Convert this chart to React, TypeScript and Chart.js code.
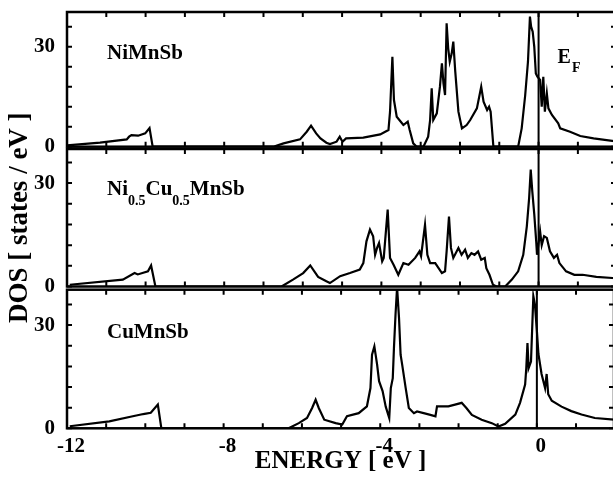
import React, { useEffect, useRef } from 'react';
import { Chart, registerables } from 'chart.js';

Chart.register(...registerables);

// ---------- axis ticks / labels ----------
const xTickValues = [-12, -11, -10, -9, -8, -7, -6, -5, -4, -3, -2, -1, 0, 1];
const xLabelValues = [-12, -8, -4, 0];
const yTickValues = [0, 6, 12, 18, 24, 30, 36];
const yLabelValues = [0, 30];
const fermiEnergy = 0;

// ---------- NiMnSb ----------
const niEnergy = [-12.0, -11.16, -10.48, -10.42, -10.36, -10.19, -10.01, -9.9, -9.82, -6.75, -6.49, -6.07, -5.9, -5.79, -5.66, -5.55, -5.4, -5.31, -5.14, -5.06, -4.99, -4.9, -4.46, -4.03, -3.82, -3.78, -3.72, -3.68, -3.61, -3.44, -3.33, -3.28, -3.19, -3.1, -2.93, -2.81, -2.76, -2.72, -2.68, -2.59, -2.51, -2.46, -2.42, -2.38, -2.34, -2.3, -2.26, -2.21, -2.17, -2.12, -2.04, -1.95, -1.83, -1.74, -1.57, -1.46, -1.4, -1.31, -1.26, -1.22, -1.15, -0.52, -0.43, -0.34, -0.27, -0.22, -0.19, -0.15, -0.11, -0.07, -0.03, 0.04, 0.08, 0.12, 0.16, 0.21, 0.25, 0.34, 0.5, 0.55, 0.8, 1.06, 1.4, 1.97];
const niDos = [0.4, 1.2, 2.2, 3.0, 3.5, 3.3, 4.0, 5.6, 0, 0, 1.0, 2.2, 4.5, 6.3, 4.0, 2.5, 1.2, 0.8, 1.5, 3.0, 1.5, 2.5, 2.7, 3.7, 5.0, 10.5, 27.0, 14.0, 9.0, 6.5, 7.5, 5.0, 1.0, 0, 0, 3.0, 8.0, 17.5, 8.0, 10.0, 18.0, 25.0, 19.0, 15.5, 37.0, 29.5, 25.5, 28.0, 31.5, 22.5, 10.5, 5.5, 6.5, 8.0, 11.5, 18.0, 13.5, 11.0, 12.0, 10.5, 0, 0, 5.5, 15.5, 25.5, 39.0, 36.0, 34.5, 30.0, 22.0, 21.0, 20.0, 12.0, 21.0, 10.5, 16.0, 11.5, 9.5, 7.0, 5.5, 4.5, 3.2, 2.5, 1.6];

// ---------- Ni0.5Cu0.5MnSb ----------
const mixEnergy = [-11.93, -10.58, -10.28, -10.2, -9.94, -9.86, -9.75, -6.54, -6.25, -5.99, -5.81, -5.61, -5.4, -5.31, -5.05, -4.8, -4.55, -4.46, -4.38, -4.29, -4.21, -4.16, -4.11, -4.06, -3.98, -3.94, -3.84, -3.78, -3.69, -3.57, -3.44, -3.31, -3.14, -3.03, -2.99, -2.89, -2.83, -2.76, -2.63, -2.46, -2.38, -2.34, -2.28, -2.23, -2.17, -2.04, -1.96, -1.87, -1.8, -1.71, -1.63, -1.54, -1.46, -1.37, -1.33, -1.25, -1.16, -1.07, -0.85, -0.68, -0.52, -0.39, -0.3, -0.24, -0.2, -0.16, -0.11, -0.06, -0.04, 0.04, 0.08, 0.14, 0.21, 0.29, 0.39, 0.47, 0.53, 0.7, 0.91, 1.12, 1.47, 1.97];
const mixDos = [0.5, 2.0, 3.9, 3.5, 4.4, 6.1, 0, 0, 2.0, 3.9, 6.1, 2.8, 1.5, 1.0, 3.0, 3.9, 4.9, 6.8, 13.1, 16.5, 14.6, 9.2, 11.2, 12.6, 7.3, 8.3, 22.3, 8.3, 6.3, 3.4, 6.8, 6.3, 8.3, 10.2, 8.8, 17.9, 9.2, 6.8, 6.8, 3.9, 4.4, 10.2, 20.3, 11.2, 8.3, 11.2, 9.2, 10.7, 8.3, 9.7, 9.2, 10.2, 7.8, 8.3, 5.3, 3.4, 0.5, 0, 0, 2.0, 4.4, 9.2, 17.4, 25.7, 33.9, 27.6, 21.0, 13.0, 9.2, 15.9, 12.0, 14.6, 14.1, 10.2, 8.3, 9.2, 6.8, 4.4, 3.4, 3.4, 2.8, 2.4];

// ---------- CuMnSb ----------
const cuEnergy = [-11.93, -10.92, -10.32, -10.11, -10.02, -9.86, -9.68, -9.59, -6.34, -6.08, -5.87, -5.74, -5.65, -5.57, -5.43, -5.14, -4.97, -4.85, -4.55, -4.34, -4.25, -4.21, -4.15, -4.08, -4.03, -3.94, -3.86, -3.77, -3.73, -3.68, -3.65, -3.61, -3.57, -3.52, -3.48, -3.44, -3.35, -3.27, -3.14, -3.06, -2.89, -2.72, -2.59, -2.55, -2.42, -2.26, -2.09, -1.92, -1.8, -1.66, -1.41, -1.15, -0.98, -0.81, -0.55, -0.43, -0.3, -0.27, -0.24, -0.21, -0.15, -0.09, -0.05, 0.0, 0.04, 0.12, 0.21, 0.25, 0.29, 0.38, 0.63, 0.88, 1.14, 1.48, 1.97];
const cuDos = [0.6, 2.0, 3.5, 4.0, 4.2, 4.5, 6.9, 0, 0, 1.5, 3.0, 5.9, 8.3, 5.9, 2.5, 1.5, 1.1, 3.5, 4.4, 6.4, 11.7, 21.4, 23.8, 18.5, 13.7, 10.8, 6.3, 3.0, 11.7, 14.6, 23.3, 33.0, 41.0, 32.0, 21.4, 18.5, 11.7, 5.9, 4.4, 4.9, 4.4, 3.9, 3.5, 6.4, 6.4, 6.4, 6.9, 7.4, 5.9, 3.9, 2.5, 1.5, 0.5, 1.3, 4.0, 7.4, 12.7, 17.5, 24.8, 17.5, 19.4, 38.4, 36.0, 28.4, 21.6, 15.8, 11.7, 15.8, 9.9, 8.0, 6.3, 5.0, 4.0, 3.0, 2.5];

const SERIF = "'Liberation Serif', 'Times New Roman', serif";
const OFFSET = 40; // canvases start above the page so the top panel's padding always wins
const CANVAS_W = 620;
const CANVAS_H = 477 + OFFSET;
const X_MIN = -12;
const X_MAX = 1.97;

type Seg = { text: string; sub?: boolean };

interface Panel {
  energy: number[];
  dos: number[];
  top: number;
  bottom: number;
  yMax: number;
  showX: boolean;
  yTitle: boolean;
  name: Seg[];
  nameDy: number;
  fermiLabel: boolean;
}

const panels: Panel[] = [
  {
    energy: niEnergy, dos: niDos, top: 12, bottom: 146.7, yMax: 40.4, showX: false, yTitle: false,
    name: [{ text: 'NiMnSb' }], nameDy: 47, fermiLabel: true,
  },
  {
    energy: mixEnergy, dos: mixDos, top: 149, bottom: 286.5, yMax: 39.9, showX: false, yTitle: true,
    name: [{ text: 'Ni' }, { text: '0.5', sub: true }, { text: 'Cu' }, { text: '0.5', sub: true }, { text: 'MnSb' }],
    nameDy: 45.5, fermiLabel: false,
  },
  {
    energy: cuEnergy, dos: cuDos, top: 289.7, bottom: 428.3, yMax: 40.3, showX: true, yTitle: false,
    name: [{ text: 'CuMnSb' }], nameDy: 48.3, fermiLabel: false,
  },
];

function makeFramePlugin(p: Panel) {
  return {
    id: 'frameAndLabels',
    afterDatasetsDraw(chart: any) {
      const { ctx, chartArea: a, scales } = chart;
      ctx.save();
      ctx.strokeStyle = '#000';
      ctx.lineWidth = 2.5;
      ctx.strokeRect(a.left, a.top, a.right - a.left, a.bottom - a.top);
      ctx.lineWidth = 2;
      const tl = 5;
      ctx.beginPath();
      for (const v of xTickValues) {
        const px = scales.x.getPixelForValue(v);
        ctx.moveTo(px, a.bottom);
        ctx.lineTo(px, a.bottom - tl);
        ctx.moveTo(px, a.top);
        ctx.lineTo(px, a.top + tl);
      }
      for (const v of yTickValues) {
        const py = scales.y.getPixelForValue(v);
        ctx.moveTo(a.left, py);
        ctx.lineTo(a.left + tl, py);
        ctx.moveTo(a.right, py);
        ctx.lineTo(a.right - tl, py);
      }
      ctx.stroke();

      // panel name
      ctx.fillStyle = '#000';
      ctx.textBaseline = 'alphabetic';
      ctx.textAlign = 'left';
      let x = a.left + 40;
      const base = a.top + p.nameDy;
      for (const s of p.name) {
        ctx.font = s.sub ? `bold 14px ${SERIF}` : `bold 21px ${SERIF}`;
        ctx.fillText(s.text, x, s.sub ? base + 10 : base);
        x += ctx.measureText(s.text).width;
      }
      if (p.fermiLabel) {
        ctx.font = `bold 20px ${SERIF}`;
        const ex = scales.x.getPixelForValue(fermiEnergy) + 19;
        ctx.fillText('E', ex, a.top + 51);
        const w = ctx.measureText('E').width;
        ctx.font = `bold 14px ${SERIF}`;
        ctx.fillText('F', ex + w + 1, a.top + 60);
      }
      ctx.restore();
    },
  };
}

function buildChart(canvas: HTMLCanvasElement, p: Panel) {
  const points = p.energy.map((e, i) => ({ x: e, y: p.dos[i] }));
  const fermiLine = [
    { x: fermiEnergy, y: 0 },
    { x: fermiEnergy, y: p.yMax },
  ];
  const xHeight = p.showX ? 477 - p.bottom : 0;
  return new Chart(canvas, {
    type: 'line',
    data: {
      datasets: [
        {
          data: points,
          borderColor: '#000',
          borderWidth: 2.2,
          pointRadius: 0,
          tension: 0,
          fill: false,
        },
        {
          data: fermiLine,
          borderColor: '#000',
          borderWidth: 2,
          pointRadius: 0,
          tension: 0,
          fill: false,
        },
      ],
    },
    options: {
      responsive: false,
      animation: false,
      events: [],
      layout: {
        autoPadding: false,
        padding: {
          left: 0,
          right: CANVAS_W - 616,
          top: p.top + OFFSET,
          bottom: p.showX ? 0 : 477 - p.bottom,
        },
      },
      plugins: {
        legend: { display: false },
        tooltip: { enabled: false },
      },
      scales: {
        x: {
          type: 'linear',
          min: X_MIN,
          max: X_MAX,
          display: p.showX,
          grid: { display: false, drawTicks: false },
          border: { display: false },
          afterFit: (scale: any) => {
            scale.height = xHeight;
          },
          ticks: {
            stepSize: 1,
            autoSkip: false,
            maxRotation: 0,
            padding: 6,
            labelOffset: 4,
            color: '#000',
            font: { family: SERIF, size: 21, weight: 'bold' },
            callback: (v: any) => (xLabelValues.includes(Number(v)) ? String(v) : ''),
          },
          title: {
            display: true,
            text: 'ENERGY [ eV ]',
            color: '#000',
            font: { family: SERIF, size: 25, weight: 'bold' },
            padding: 0,
          },
        },
        y: {
          type: 'linear',
          min: 0,
          max: p.yMax,
          grid: { display: false, drawTicks: false },
          border: { display: false },
          afterFit: (scale: any) => {
            scale.width = 67;
          },
          ticks: {
            stepSize: 6,
            autoSkip: false,
            padding: 12,
            color: '#000',
            font: { family: SERIF, size: 21, weight: 'bold' },
            callback: (v: any) => (yLabelValues.includes(Number(v)) ? String(v) : ''),
          },
          title: {
            display: p.yTitle,
            text: 'DOS [ states / eV ]',
            color: '#000',
            font: { family: SERIF, size: 27, weight: 'bold' },
            padding: { top: 4, bottom: 0 },
          },
        },
      },
    } as any,
    plugins: [makeFramePlugin(p)],
  });
}

export default function App() {
  const refs = [useRef<HTMLCanvasElement>(null), useRef<HTMLCanvasElement>(null), useRef<HTMLCanvasElement>(null)];
  useEffect(() => {
    const charts = panels.map((p, i) => buildChart(refs[i].current as HTMLCanvasElement, p));
    return () => charts.forEach((c) => c.destroy());
  }, []);
  return (
    <div
      style={{
        position: 'absolute',
        left: 0,
        top: 0,
        width: 613,
        height: 477,
        overflow: 'hidden',
        background: '#fff',
      }}
    >
      {panels.map((_, i) => (
        <canvas
          key={i}
          ref={refs[i]}
          width={CANVAS_W}
          height={CANVAS_H}
          style={{ position: 'absolute', left: 0, top: -OFFSET }}
        />
      ))}
    </div>
  );
}
